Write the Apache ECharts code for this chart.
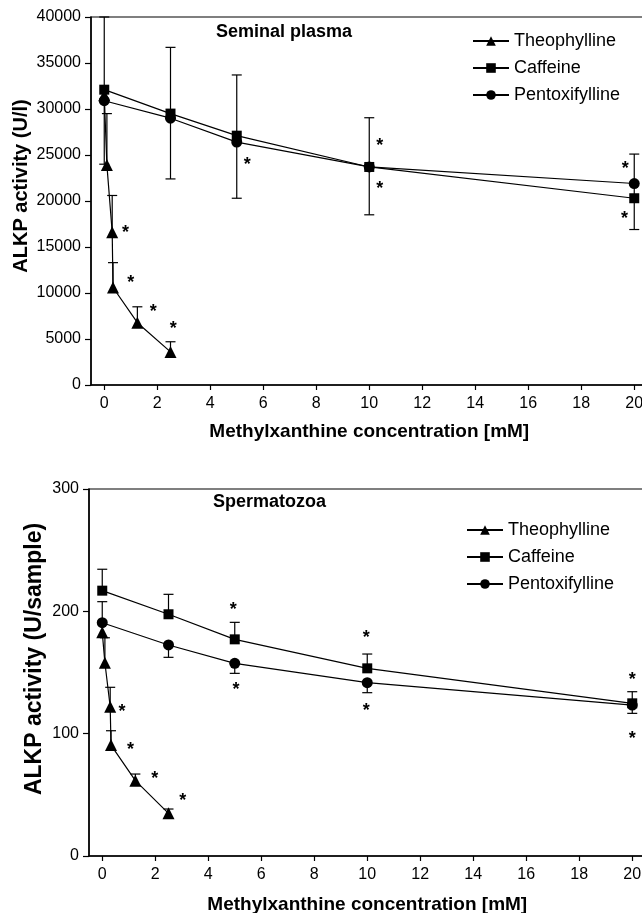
<!DOCTYPE html>
<html>
<head>
<meta charset="utf-8">
<script src="https://cdn.jsdelivr.net/npm/echarts@6/dist/echarts.min.js"></script>
<style>
html,body{margin:0;padding:0;background:#fff;}
#chart{width:642px;height:913px;}
</style>
</head>
<body>
<div id="chart"></div>
<script>
// ---------- data ----------
const seriesNames = ['Theophylline', 'Caffeine', 'Pentoxifylline'];
const xTheo = [0, 0.1, 0.3, 0.33, 1.25, 2.5];
const xOther = [0, 2.5, 5, 10, 20];
const xTicks = [0, 2, 4, 6, 8, 10, 12, 14, 16, 18, 20];

// Seminal plasma (U/l)
const plasmaTheo = [31500, 23900, 16600, 10600, 6770, 3600];
const plasmaCaff = [32100, 29500, 27100, 23700, 20300];
const plasmaPent = [30900, 29000, 26400, 23700, 21900];
// error bars: [x, mean, low, high]
const plasmaErr = [
  [0, 32100, 24000, 40000],
  [0.1, 23900, 23900, 29500],
  [0.3, 16600, 16600, 20600],
  [0.33, 10600, 10600, 13300],
  [1.25, 6770, 6770, 8500],
  [2.5, 3600, 3600, 4700],
  [2.5, 29200, 22400, 36700],
  [5, 26800, 20300, 33700],
  [10, 23700, 18500, 29050],
  [20, 21100, 16900, 25100]
];
// significance asterisks: [x, y]
const plasmaStars = [
  [0.8, 16900], [1.0, 11500], [1.85, 8400], [2.6, 6500],
  [5.4, 24300], [10.4, 26400], [10.4, 21700], [19.66, 23900], [19.63, 18500]
];

// Spermatozoa (U/sample)
const spermTheo = [182.8, 158, 122, 90.7, 61.6, 34.9];
const spermCaff = [216.9, 197.6, 177.1, 153.4, 124.8];
const spermPent = [190.7, 172.5, 157.5, 141.7, 123.4];
const spermErr = [
  [0, 216.9, 216.9, 234.4],
  [0, 190.7, 190.7, 207.9],
  [0.1, 158, 158, 178.4],
  [0.3, 122, 122, 137.9],
  [0.33, 90.7, 90.7, 102.4],
  [1.25, 61.6, 61.6, 67],
  [2.5, 34.9, 34.9, 38.4],
  [2.5, 197.6, 197.6, 213.9],
  [2.5, 172.5, 162.4, 172.5],
  [5, 177.1, 177.1, 191],
  [5, 157.5, 149.3, 157.5],
  [10, 153.4, 153.4, 165.1],
  [10, 141.7, 133.5, 141.7],
  [20, 124.8, 124.8, 134.3],
  [20, 123.4, 116.6, 123.4]
];
const spermStars = [
  [0.75, 120.7], [1.07, 90], [1.98, 66.2], [3.04, 48.5],
  [4.94, 204.4], [5.05, 139], [9.96, 181.5], [9.96, 122], [20.0, 147], [20.0, 98.9]
];

// ---------- chart ----------
const FONT = '"Liberation Sans", Arial, Helvetica, sans-serif';
const zip = (xs, ys) => xs.map((x, i) => [x, ys[i]]);

function errRender(params, api) {
  const x = api.value(0), m = api.value(1), lo = api.value(2), hi = api.value(3);
  const pLo = api.coord([x, lo]);
  const pHi = api.coord([x, hi]);
  const st = { stroke: '#000', lineWidth: 1.2 };
  const hw = 5;
  const children = [{ type: 'line', shape: { x1: pLo[0], y1: pLo[1], x2: pHi[0], y2: pHi[1] }, style: st }];
  if (hi !== m) children.push({ type: 'line', shape: { x1: pHi[0] - hw, y1: pHi[1], x2: pHi[0] + hw, y2: pHi[1] }, style: st });
  if (lo !== m) children.push({ type: 'line', shape: { x1: pLo[0] - hw, y1: pLo[1], x2: pLo[0] + hw, y2: pLo[1] }, style: st });
  return { type: 'group', children: children };
}
function starRender(params, api) {
  const p = api.coord([api.value(0), api.value(1)]);
  return {
    type: 'text', x: p[0], y: p[1] + 4,
    style: { text: '*', fontSize: 18, fontWeight: 'bold', fontFamily: FONT, fill: '#000', align: 'center', verticalAlign: 'middle' }
  };
}

function xAxisDef(idx, gap) {
  return {
    type: 'value', gridIndex: idx, min: -0.5, max: 20.5,
    name: 'Methylxanthine concentration [mM]', nameLocation: 'middle', nameGap: gap,
    nameTextStyle: { fontSize: 19, fontWeight: 'bold', color: '#000', fontFamily: FONT },
    axisLine: { onZero: false, lineStyle: { color: '#000', width: 1.5 } },
    axisTick: { show: true, length: 5, customValues: xTicks, lineStyle: { color: '#000', width: 1.2 } },
    axisLabel: { customValues: xTicks, margin: 11, fontSize: 16, color: '#000', fontFamily: FONT },
    splitLine: { show: false }
  };
}
function yAxisDef(idx, max, interval) {
  return {
    type: 'value', gridIndex: idx, min: 0, max: max, interval: interval,
    axisLine: { show: true, onZero: false, lineStyle: { color: '#000', width: 1.5 } },
    axisTick: { show: true, length: 6, lineStyle: { color: '#000', width: 1.2 } },
    axisLabel: { margin: 10, fontSize: 16, color: '#000', fontFamily: FONT, formatter: (v) => String(v) },
    splitLine: { show: false }
  };
}
function lineSeries(name, sym, size, data, idx) {
  return {
    name: name, type: 'line', xAxisIndex: idx, yAxisIndex: idx, data: data,
    symbol: sym, symbolSize: size, showSymbol: true,
    lineStyle: { color: '#000', width: 1.2 }, itemStyle: { color: '#000' },
    z: 3, animation: false
  };
}
function legendDef(left, top) {
  return {
    data: seriesNames, orient: 'vertical', left: left, top: top, padding: 0,
    itemWidth: 36, itemHeight: 12, itemGap: 9,
    textStyle: { fontSize: 18, lineHeight: 18, color: '#000', fontFamily: FONT }
  };
}
function titleText(text, x, y, size, rot) {
  return {
    type: 'text', x: x, y: y, rotation: rot || 0,
    style: { text: text, fontSize: size, fontWeight: 'bold', fontFamily: FONT, fill: '#000',
      align: rot ? 'center' : 'left', verticalAlign: 'middle' }
  };
}

const chart = echarts.init(document.getElementById('chart'), null, { renderer: 'canvas' });
chart.setOption({
  backgroundColor: '#fff',
  animation: false,
  grid: [
    { left: 91, top: 17, width: 556.5, height: 368, containLabel: false, outerBoundsMode: 'none',
      show: true, borderColor: '#000', borderWidth: 1.2, backgroundColor: 'transparent' },
    { left: 89, top: 489, width: 556.5, height: 367, containLabel: false, outerBoundsMode: 'none',
      show: true, borderColor: '#000', borderWidth: 1.2, backgroundColor: 'transparent' }
  ],
  xAxis: [xAxisDef(0, 37), xAxisDef(1, 39)],
  yAxis: [yAxisDef(0, 40000, 5000), yAxisDef(1, 300, 100)],
  legend: [legendDef(472, 32), legendDef(466, 521)],
  graphic: [
    titleText('Seminal plasma', 216, 32, 18),
    titleText('Spermatozoa', 213, 502, 18),
    titleText('ALKP activity (U/l)', 21, 186, 20, Math.PI / 2),
    titleText('ALKP activity (U/sample)', 35, 659, 23, Math.PI / 2)
  ],
  series: [
    { type: 'custom', xAxisIndex: 0, yAxisIndex: 0, data: plasmaErr, renderItem: errRender, encode: { x: 0, y: [1, 2, 3] }, z: 2, silent: true },
    lineSeries('Theophylline', 'triangle', 12, zip(xTheo, plasmaTheo), 0),
    lineSeries('Caffeine', 'rect', 10, zip(xOther, plasmaCaff), 0),
    lineSeries('Pentoxifylline', 'circle', 11, zip(xOther, plasmaPent), 0),
    { type: 'custom', xAxisIndex: 0, yAxisIndex: 0, data: plasmaStars, renderItem: starRender, encode: { x: 0, y: 1 }, z: 4, silent: true },

    { type: 'custom', xAxisIndex: 1, yAxisIndex: 1, data: spermErr, renderItem: errRender, encode: { x: 0, y: [1, 2, 3] }, z: 2, silent: true },
    lineSeries('Theophylline', 'triangle', 12, zip(xTheo, spermTheo), 1),
    lineSeries('Caffeine', 'rect', 10, zip(xOther, spermCaff), 1),
    lineSeries('Pentoxifylline', 'circle', 11, zip(xOther, spermPent), 1),
    { type: 'custom', xAxisIndex: 1, yAxisIndex: 1, data: spermStars, renderItem: starRender, encode: { x: 0, y: 1 }, z: 4, silent: true }
  ]
});
</script>
</body>
</html>
